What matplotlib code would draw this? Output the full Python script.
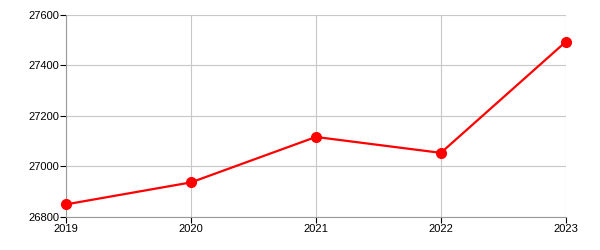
import matplotlib.pyplot as plt

years = [2019, 2020, 2021, 2022, 2023]
values = [26850, 26937, 27117, 27054, 27494]
yticks = [26800, 27000, 27200, 27400, 27600]

plt.rcParams['font.family'] = ['Liberation Sans', 'DejaVu Sans']

fig = plt.figure(figsize=(6, 2.5), dpi=100)
ax = fig.add_axes([0.11, 0.132, 0.833, 0.808])

ax.plot(years, values, color='#ff0000', lw=1.6, marker='o', ms=7, zorder=3, clip_on=False)

ax.set_xlim(2019, 2023)
ax.set_ylim(26800, 27600)
ax.set_xticks(years)
ax.set_yticks(yticks)
ax.grid(True, color='#c8c8c8', lw=0.8)
ax.set_axisbelow(True)

for s in ['top', 'right']:
    ax.spines[s].set_visible(False)
for s in ['left', 'bottom']:
    ax.spines[s].set_color('#999999')
    ax.spines[s].set_linewidth(0.8)
ax.tick_params(colors='black', labelsize=8, length=4, width=0.8, pad=1)

fig.savefig('out.png', dpi=100)
